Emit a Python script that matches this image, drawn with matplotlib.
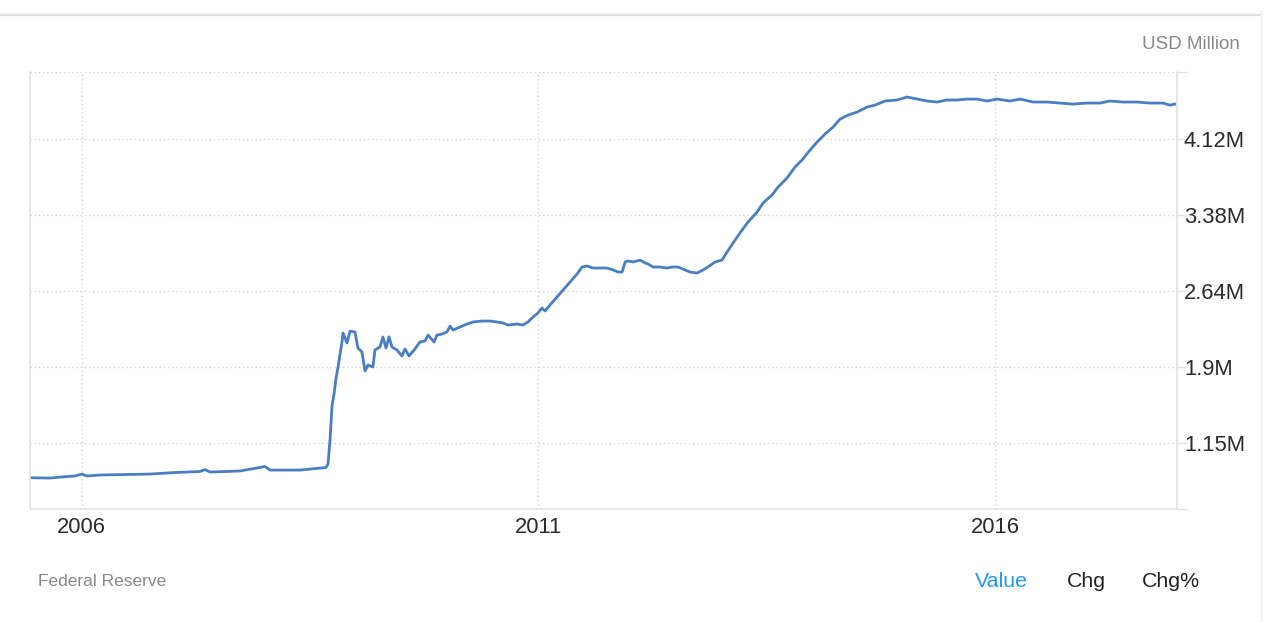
import matplotlib.pyplot as plt
from matplotlib.lines import Line2D

plt.rcParams['font.family'] = ['Liberation Sans', 'DejaVu Sans']

# Fed balance sheet, decimal year vs value in millions of USD Million
years = [
    2005.434, 2005.653, 2005.818, 2005.927, 2006.003, 2006.058, 2006.200, 2006.474,
    2006.748, 2007.022, 2007.295, 2007.350, 2007.405, 2007.733, 2008.007, 2008.062,
    2008.391, 2008.500, 2008.610, 2008.675, 2008.697, 2008.719, 2008.741, 2008.763,
    2008.785, 2008.807, 2008.850, 2008.861, 2008.905, 2008.938, 2008.992, 2009.025,
    2009.069, 2009.102, 2009.135, 2009.189, 2009.211, 2009.266, 2009.299, 2009.332,
    2009.365, 2009.398, 2009.452, 2009.507, 2009.540, 2009.584, 2009.649, 2009.704,
    2009.759, 2009.792, 2009.858, 2009.890, 2009.945, 2010.000, 2010.033, 2010.066,
    2010.142, 2010.219, 2010.285, 2010.383, 2010.471, 2010.548, 2010.613, 2010.668,
    2010.766, 2010.832, 2010.887, 2010.941, 2010.996, 2011.040, 2011.073, 2011.128,
    2011.204, 2011.270, 2011.347, 2011.424, 2011.479, 2011.533, 2011.599, 2011.676,
    2011.752, 2011.818, 2011.873, 2011.917, 2011.950, 2011.983, 2012.037, 2012.114,
    2012.169, 2012.202, 2012.256, 2012.333, 2012.410, 2012.464, 2012.530, 2012.585,
    2012.661, 2012.738, 2012.804, 2012.857, 2012.935, 2013.011, 2013.066, 2013.132,
    2013.208, 2013.296, 2013.395, 2013.460, 2013.559, 2013.625, 2013.723, 2013.811,
    2013.887, 2013.975, 2014.052, 2014.139, 2014.227, 2014.304, 2014.391, 2014.490,
    2014.599, 2014.687, 2014.796, 2014.928, 2015.037, 2015.147, 2015.256, 2015.366,
    2015.475, 2015.585, 2015.694, 2015.804, 2015.913, 2016.023, 2016.165, 2016.275,
    2016.417, 2016.570, 2016.711, 2016.854, 2017.007, 2017.150, 2017.259, 2017.402,
    2017.555, 2017.697, 2017.840, 2017.916, 2017.971,
]
values = [
    0.807, 0.804, 0.817, 0.824, 0.843, 0.824, 0.834, 0.838,
    0.843, 0.858, 0.868, 0.887, 0.863, 0.873, 0.917, 0.882,
    0.882, 0.892, 0.902, 0.907, 0.941, 1.176, 1.509, 1.627,
    1.783, 1.891, 2.136, 2.224, 2.126, 2.243, 2.234, 2.077,
    2.038, 1.852, 1.911, 1.891, 2.058, 2.087, 2.185, 2.077,
    2.185, 2.087, 2.058, 1.999, 2.068, 1.999, 2.068, 2.136,
    2.146, 2.204, 2.136, 2.204, 2.214, 2.234, 2.292, 2.253,
    2.283, 2.312, 2.332, 2.341, 2.341, 2.332, 2.322, 2.302,
    2.312, 2.302, 2.332, 2.380, 2.420, 2.469, 2.439, 2.498,
    2.576, 2.645, 2.723, 2.802, 2.870, 2.880, 2.860, 2.860,
    2.860, 2.841, 2.821, 2.821, 2.919, 2.929, 2.919, 2.938,
    2.909, 2.899, 2.870, 2.870, 2.860, 2.870, 2.870, 2.850,
    2.821, 2.811, 2.841, 2.870, 2.919, 2.938, 3.017, 3.105,
    3.203, 3.311, 3.408, 3.496, 3.575, 3.653, 3.741, 3.849,
    3.917, 4.015, 4.093, 4.172, 4.240, 4.318, 4.357, 4.387,
    4.436, 4.455, 4.495, 4.505, 4.534, 4.514, 4.495, 4.485,
    4.505, 4.505, 4.514, 4.514, 4.495, 4.514, 4.495, 4.514,
    4.485, 4.485, 4.475, 4.465, 4.475, 4.475, 4.495, 4.485,
    4.485, 4.475, 4.475, 4.455, 4.465,
]

ytick_vals = [1.15, 1.8925, 2.635, 3.3775, 4.12]
ytick_labels = ['1.15M', '1.9M', '2.64M', '3.38M', '4.12M']
xtick_vals = [2006, 2011, 2016]
xtick_labels = ['2006', '2011', '2016']

y_min, y_max = 0.501, 4.784
x_min, x_max = 2005.434, 2017.993

W, H = 1280, 622
fig = plt.figure(figsize=(W / 100, H / 100), dpi=100)
ax = fig.add_axes([30 / W, 1 - 509 / H, 1147 / W, 437.5 / H])

ax.plot(years, values, color='#4a7ec2', linewidth=2.0, solid_joinstyle='round')

ax.set_xlim(x_min, x_max)
ax.set_ylim(y_min, y_max)

ax.set_xticks(xtick_vals)
ax.set_xticklabels(xtick_labels)
ax.set_yticks([y_min] + ytick_vals + [y_max])
ax.set_yticklabels([''] + ytick_labels + [''])
ax.yaxis.tick_right()

ax.tick_params(axis='x', length=0, pad=6, labelsize=15.8, labelcolor='#2b2b2b')
ax.tick_params(axis='y', length=7.5, width=1, color='#e3e3e3', pad=-2.5,
               labelsize=15.8, labelcolor='#2b2b2b')

ax.grid(True, linestyle=(0, (1, 2)), color='#d4d4d4', linewidth=1.0)
ax.set_axisbelow(True)

for side in ['left', 'right', 'bottom']:
    ax.spines[side].set_color('#e3e3e3')
    ax.spines[side].set_linewidth(1.2)
ax.spines['top'].set_visible(False)

# frame lines around the widget
fig.add_artist(Line2D([0, 1261 / W], [1 - 15 / H] * 2, color='#e0e0e0', linewidth=1.6))
fig.add_artist(Line2D([1261 / W] * 2, [0, 1 - 10 / H], color='#eeeeee', linewidth=1))

fig.text(1240 / W, 1 - 49 / H, 'USD Million', ha='right', va='baseline',
         fontsize=13.5, color='#888888')
fig.text(38 / W, 1 - 585.5 / H, 'Federal Reserve', ha='left', va='baseline',
         fontsize=12.5, color='#888888')
fig.text(975 / W, 1 - 587 / H, 'Value', ha='left', va='baseline',
         fontsize=15.4, color='#2196f3')
fig.text(1067 / W, 1 - 587 / H, 'Chg', ha='left', va='baseline',
         fontsize=15.4, color='#222222')
fig.text(1142 / W, 1 - 587 / H, 'Chg%', ha='left', va='baseline',
         fontsize=15.4, color='#222222')

fig.savefig('out.png', dpi=100, facecolor='white')
